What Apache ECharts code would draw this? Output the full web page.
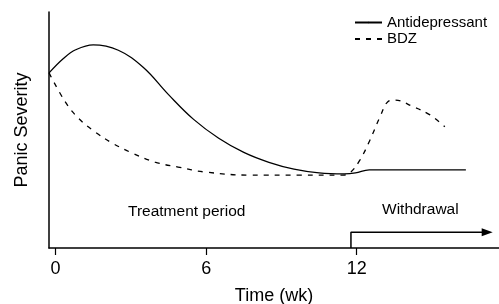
<!DOCTYPE html>
<html>
<head>
<meta charset="utf-8">
<script src="https://cdn.jsdelivr.net/npm/echarts@6/dist/echarts.min.js"></script>
<style>
  html, body { margin: 0; padding: 0; background: #fff; }
  #chart { width: 499px; height: 304px; }
</style>
</head>
<body>
<div id="chart"></div>
<script>
// weeks on x, severity (0-100) on y
var tickWeeks = [0, 6, 12];

var antiWeeks = [-0.26, 0.3, 0.8, 1.5, 2.5, 3.5, 4.5, 5.5, 6.5, 7.5, 8.5, 9.5, 10.5, 11.5, 11.95, 12.5, 16.35];
var antiVals  = [74.2, 80.2, 84.0, 86.1, 83.8, 76.5, 65.0, 54.5, 46.5, 40.5, 36.3, 33.4, 31.8, 31.4, 31.8, 33.1, 33.1];

var bdzWeeks = [-0.26, 0.38, 0.9, 1.57, 2.25, 3.04, 3.96, 4.88, 5.95, 7.75, 9.74, 11.45, 11.73, 12.13, 12.53, 12.93, 13.24, 13.52, 14.24, 14.92, 15.51];
var bdzVals  = [74.2, 62.0, 55.1, 49.2, 44.5, 40.3, 36.4, 34.3, 32.2, 30.9, 30.9, 30.9, 31.8, 37.3, 45.8, 55.6, 62.0, 62.7, 59.9, 56.4, 51.4];

// withdrawal arrow: starts at week 11.77, runs to the end
var arrowWeeks = [11.77, 11.77, 17.2];
var arrowVals  = [0, 6.7, 6.7];

function pairs(xs, ys) {
    var out = [];
    for (var i = 0; i < xs.length; i++) out.push([xs[i], ys[i]]);
    return out;
}

var arrowData = pairs(arrowWeeks, arrowVals).map(function(p, i) {
    if (i === arrowWeeks.length - 1) {
        return { value: p, symbol: 'triangle', symbolSize: [8, 11], symbolRotate: -90 };
    }
    return { value: p, symbol: 'none' };
});

var chart = echarts.init(document.getElementById('chart'));
var font = 'Liberation Sans, Arial, sans-serif';

chart.setOption({
    animation: false,
    grid: { left: 49, right: 0, top: 12, bottom: 56, containLabel: false, outerBoundsMode: 'none' },
    legend: {
        orient: 'vertical',
        left: 349,
        top: 10,
        itemWidth: 27,
        itemHeight: 2,
        itemGap: 1.5,
        data: ['Antidepressant', 'BDZ'],
        textStyle: { fontFamily: font, fontSize: 15, color: '#000', lineHeight: 13 }
    },
    xAxis: {
        type: 'value',
        min: -0.263,
        max: 17.67,
        name: 'Time (wk)',
        nameLocation: 'middle',
        nameGap: 39,
        nameTextStyle: { fontFamily: font, fontSize: 18, color: '#000' },
        axisLine: { lineStyle: { color: '#000', width: 1.5 } },
        axisTick: { show: true, customValues: tickWeeks, length: 7, lineStyle: { color: '#000', width: 1.2 } },
        axisLabel: { customValues: tickWeeks, margin: 12, fontFamily: font, fontSize: 18, color: '#000' },
        splitLine: { show: false }
    },
    yAxis: {
        type: 'value',
        min: 0,
        max: 100,
        name: 'Panic Severity',
        nameLocation: 'middle',
        nameGap: 18,
        nameTextStyle: { fontFamily: font, fontSize: 18, color: '#000' },
        axisLine: { show: true, onZero: false, lineStyle: { color: '#000', width: 1.5 } },
        axisTick: { show: false },
        axisLabel: { show: false },
        splitLine: { show: false }
    },
    graphic: [
        { type: 'text', left: 128, top: 204, style: { text: 'Treatment period', fontFamily: font, fontSize: 15.5, fill: '#000' } },
        { type: 'text', left: 382, top: 202, style: { text: 'Withdrawal', fontFamily: font, fontSize: 15.5, fill: '#000' } }
    ],
    series: [
        {
            name: 'Antidepressant',
            type: 'line',
            data: pairs(antiWeeks, antiVals),
            smooth: 0.4,
            symbol: 'none',
            lineStyle: { color: '#000', width: 1.3 },
            itemStyle: { color: '#000' }
        },
        {
            name: 'BDZ',
            type: 'line',
            data: pairs(bdzWeeks, bdzVals),
            smooth: 0.4,
            symbol: 'none',
            lineStyle: { color: '#000', width: 1.3, type: [5, 6] },
            itemStyle: { color: '#000' }
        },
        {
            name: 'arrow',
            type: 'line',
            data: arrowData,
            showSymbol: true,
            lineStyle: { color: '#000', width: 1.5 },
            itemStyle: { color: '#000' },
            z: 3
        }
    ]
});
</script>
</body>
</html>
